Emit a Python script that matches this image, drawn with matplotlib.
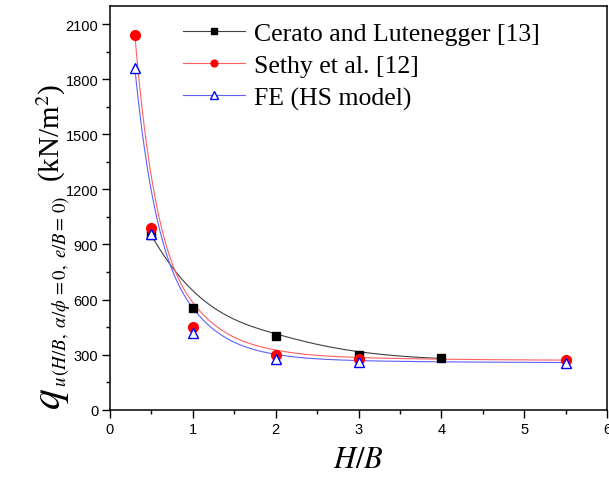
import numpy as np
import matplotlib
matplotlib.use("Agg")
import matplotlib.pyplot as plt
from matplotlib.ticker import MultipleLocator
from matplotlib.lines import Line2D

# ---- data ----
x_cerato = [0.5, 1, 2, 3, 4]
y_cerato = [950, 552, 402, 297, 279]
x_sethy = [0.3, 0.5, 1, 2, 3, 5.5]
y_sethy = [2040, 987, 451, 299, 275, 270]
x_fe = [0.3, 0.5, 1, 2, 3, 5.5]
y_fe = [1860, 958, 420, 275, 261, 257]
labels = ["Cerato and Lutenegger [13]", "Sethy et al. [12]", "FE (HS model)"]
x_ticks = [0, 1, 2, 3, 4, 5, 6]
y_ticks = [0, 300, 600, 900, 1200, 1500, 1800, 2100]


def bspline(xs, ys, k=3, num=400):
    P = np.column_stack([xs, ys]).astype(float)
    n = len(P)
    k = min(k, n - 1)
    inner = np.linspace(0, 1, n - k + 1)[1:-1]
    t = np.concatenate([np.zeros(k + 1), inner, np.ones(k + 1)])
    u = np.linspace(0, 1, num)
    N = np.zeros((num, len(t) - 1))
    for i in range(len(t) - 1):
        N[:, i] = (t[i] <= u) & (u < t[i + 1])
    last = max(i for i in range(len(t) - 1) if t[i] < t[i + 1])
    N[u >= 1, :] = 0
    N[u >= 1, last] = 1
    for p in range(1, k + 1):
        Nn = np.zeros((num, len(t) - 1 - p))
        for i in range(len(t) - 1 - p):
            d1 = t[i + p] - t[i]
            d2 = t[i + p + 1] - t[i + 1]
            a = (u - t[i]) / d1 * N[:, i] if d1 > 0 else 0
            b = (t[i + p + 1] - u) / d2 * N[:, i + 1] if d2 > 0 else 0
            Nn[:, i] = a + b
        N = Nn
    C = N @ P
    return C[:, 0], C[:, 1]


plt.rcParams['mathtext.fontset'] = 'stix'
W, H = 609, 481
fig = plt.figure(figsize=(W / 100, H / 100), dpi=100)
ax = fig.add_axes([110 / W, 70.3 / H, 497 / W, 404 / H])

series = [
    (x_cerato, y_cerato, '#404040', dict(marker='s', color='black', ms=5.8, mfc='black', mec='black')),
    (x_sethy, y_sethy, '#ff6060', dict(marker='o', color='red', ms=7, mfc='red', mec='red')),
    (x_fe, y_fe, '#6060ff', dict(marker='^', color='blue', ms=7.5, mfc='white', mec='blue', mew=1.0)),
]
handles = []
for i, (xs, ys, lc, mk) in enumerate(series):
    cx, cy = bspline(xs, ys)
    ax.plot(cx, cy, color=lc, lw=0.8, zorder=2 + i)
    ax.plot(xs, ys, ls='none', zorder=5 + i, **mk)
    hk = {k: v for k, v in mk.items() if k != 'color'}
    hk['ms'] = mk['ms'] * 0.7
    handles.append(Line2D([], [], color=lc, lw=0.8, **hk))

ax.set_xlim(0, 6)
ax.set_ylim(0, 2200)
ax.set_xticks(x_ticks)
ax.set_yticks(y_ticks)
ax.xaxis.set_minor_locator(MultipleLocator(0.5))
ax.yaxis.set_minor_locator(MultipleLocator(150))
ax.tick_params(which='major', direction='out', length=5.5, width=1.0, labelsize=10.5, pad=3)
ax.tick_params(which='minor', direction='out', length=3, width=1.0)
for lab in ax.get_xticklabels() + ax.get_yticklabels():
    lab.set_fontfamily('Liberation Sans')
for s in ax.spines.values():
    s.set_linewidth(1.1)

ax.set_xlabel(r'$H/B$', fontsize=22, labelpad=6)

# y label built from three pieces, reading bottom to top
base_x = 60
kw = dict(rotation=90, rotation_mode='anchor', ha='left', va='baseline', transform=fig.transFigure)
fig.text(base_x / W, 1 - 410 / H, r'$q$', fontsize=30, **kw)
fig.text((base_x + 6) / W, 1 - 387 / H, r'$u\,(H/B,\ \alpha/\phi\,=0,\ e/B=\,0)$', fontsize=13.5, **kw)
fig.text(base_x / W, 1 - 182 / H, '(kN/m$^2$)', fontsize=21, family='Liberation Serif', **kw)

leg = ax.legend(handles, labels, loc='upper left', bbox_to_anchor=(183 / W, 1 - 23 / H),
                bbox_transform=fig.transFigure, frameon=False,
                prop={'family': 'Liberation Serif', 'size': 18.5},
                handlelength=2.4, handletextpad=0.35, labelspacing=0.36, borderaxespad=0,
                borderpad=0)

fig.savefig('out.png', dpi=100)
